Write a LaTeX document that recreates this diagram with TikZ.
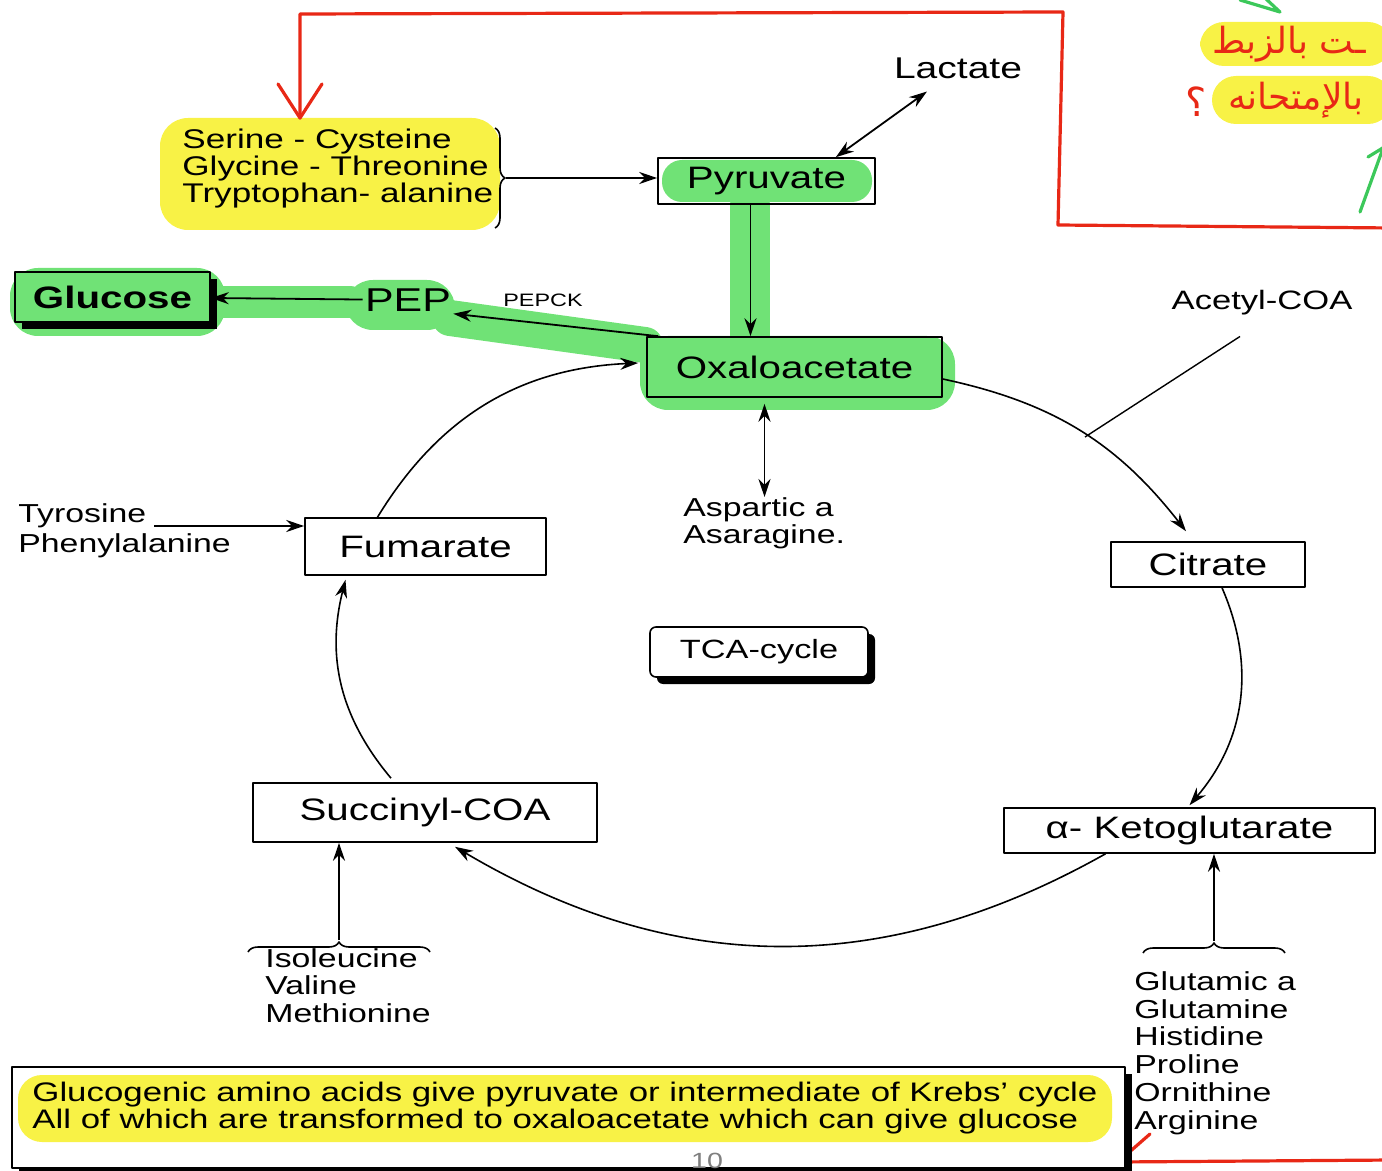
\documentclass[tikz,border=0pt]{standalone}
\usepackage{fontspec}
\setmainfont{Liberation Sans}[FakeStretch=1.3]
\newfontfamily\arabicfont[Script=Arabic]{DejaVu Sans}
\TeXXeTstate=1
\usetikzlibrary{arrows.meta,shadows,decorations.pathreplacing}
\definecolor{hlyellow}{RGB}{248,242,70}
\definecolor{hlgreen}{RGB}{112,226,118}
\definecolor{penred}{RGB}{232,40,22}
\definecolor{pengreen}{RGB}{60,200,90}
\tikzset{
  metab/.style={draw, line width=.8pt, inner sep=0pt, font=\fontsize{15.5}{16}\selectfont},
  aalist/.style={align=left, inner sep=0pt, font=\fontsize{13}{13.7}\selectfont},
  hlmark/.style={line width=16pt, line cap=round, draw=hlgreen},
  pen/.style={draw=penred, line width=1.6pt, line cap=round, line join=round},
  bshadow/.style={drop shadow={fill=black, opacity=1, shadow xshift=3.5pt, shadow yshift=-3.5pt}},
  link/.style={line width=.9pt},
  cyc/.style={->, line width=.8pt},
  bracket/.style={decorate, decoration={brace, amplitude=5pt}, line width=.8pt},
}

\begin{document}
\begin{tikzpicture}[x=0.5pt, y=-0.5pt, >={Stealth[length=9pt,width=6pt]}, line join=round]
\useasboundingbox (0,0) rectangle (1382,1171);

% highlighter marks
\fill[hlyellow, rounded corners=14pt] (160,118) rectangle (500,230);
\fill[hlyellow, rounded corners=12pt] (1200,22) rectangle (1392,66);
\fill[hlyellow, rounded corners=12pt] (1212,76) rectangle (1392,124);
\fill[hlgreen, rounded corners=14pt] (10,268) rectangle (225,336);
\draw[hlmark] (220,302) -- (350,302);
\fill[hlgreen, rounded corners=14pt] (345,280) rectangle (455,330);
\draw[hlmark, line width=18pt] (450,318) -- (645,345);
\fill[hlgreen, rounded corners=10pt] (662,160) rectangle (872,202);
\draw[hlmark, line width=20pt] (750,205) -- (750,335);
\fill[hlgreen, rounded corners=14pt] (640,336) rectangle (955,410);

% pen notes
\draw[pen] (1392,228) -- (1058,225) -- (1063,12) -- (300,14) -- (300,118);
\draw[pen] (278,84) -- (300,118) -- (322,84);
\draw[pen] (1392,1160) -- (1118,1162) -- (1150,1134);
\draw[pen, draw=pengreen] (1240,0) -- (1280,12) -- (1265,-2);
\draw[pen, draw=pengreen] (1360,212) -- (1386,140);
\draw[pen, draw=pengreen] (1368,157) -- (1386,146);
\node[anchor=west, inner sep=0pt, text=penred, font=\arabicfont\fontsize{18}{18}\selectfont] (note1) at (1212,44) {\beginR ـت بالزبط\endR};
\node[anchor=west, inner sep=0pt, text=penred, font=\arabicfont\fontsize{18}{18}\selectfont] (note2) at (1228,100) {\beginR بالإمتحانه\endR};
\node[inner sep=0pt, text=penred, font=\arabicfont\fontsize{20}{20}\selectfont] (qmark) at (1196,102) {؟};

% boxes
\node[metab, minimum width=108.5pt, minimum height=23pt] (pyr) at (766.5,181) {Pyruvate};
\node[metab, minimum width=147.5pt, minimum height=30pt] (oxa) at (794.5,367) {Oxaloacetate};
\node[metab, fill=hlgreen, bshadow, minimum width=97.5pt, minimum height=25pt, font=\fontsize{15.5}{16}\selectfont\bfseries] (glc) at (112.5,297) {Glucose};
\node[metab, minimum width=120.5pt, minimum height=28.5pt] (fum) at (425.5,546.5) {Fumarate};
\node[metab, minimum width=97pt, minimum height=22.5pt] (cit) at (1208,564.5) {Citrate};
\node[metab, minimum width=185.5pt, minimum height=22.5pt] (akg) at (1189.5,830.5) {α- Ketoglutarate};
\node[metab, minimum width=172pt, minimum height=29.5pt] (suc) at (425,812.5) {Succinyl-COA};
\node[metab, fill=white, bshadow, rounded corners=3pt, minimum width=109pt, minimum height=25pt, font=\fontsize{13.2}{14}\selectfont] (tca) at (759,652) {TCA-cycle};

% side labels
\node[font=\fontsize{15}{16}\selectfont] (lac) at (958,68) {Lactate};
\node[font=\fontsize{13.3}{14}\selectfont] (acc) at (1262,303) {Acetyl-COA};
\node[font=\fontsize{16.5}{17}\selectfont, inner sep=1pt] (pep) at (408,300) {PEP};
\node[font=\fontsize{9}{10}\selectfont] (pepck) at (543,300) {PEPCK};
\node[aalist, anchor=west, font=\fontsize{13.5}{13.5}\selectfont] (ser) at (182,169) {Serine - Cysteine\\Glycine - Threonine\\Tryptophan- alanine};
\node[aalist, anchor=north west, font=\fontsize{13}{13.5}\selectfont] (asp) at (683,497) {Aspartic a\\Asaragine.};
\node[aalist, anchor=west, font=\fontsize{13}{15}\selectfont] (tyr) at (18,531) {Tyrosine\\Phenylalanine};
\node[aalist, anchor=north west, font=\fontsize{13}{13.8}\selectfont] (ile) at (265,948) {Isoleucine\\Valine\\Methionine};
\node[aalist, anchor=north west, font=\fontsize{13}{13.9}\selectfont] (glu) at (1134,971) {Glutamic a\\Glutamine\\Histidine\\Proline\\Ornithine\\Arginine};

% summary box
\node[draw, line width=.8pt, fill=white, bshadow, minimum width=556.5pt, minimum height=50.5pt] (sumbox) at (568.5,1117.5) {};
\fill[hlyellow, rounded corners=12pt] (18,1075) rectangle (1112,1142);
\node[aalist, anchor=west, font=\fontsize{13.4}{13.5}\selectfont] (sumtxt) at (32,1108.5) {Glucogenic amino acids give pyruvate or intermediate of Krebs' cycle\\All of which are transformed to oxaloacetate which can give glucose};
\node[text=gray, font=\fontsize{11}{12}\selectfont] (pgnum) at (707,1161) {10};

% braces
\draw[bracket] (495,128) -- (495,228);
\draw[bracket] (248,952) -- (430,952);
\draw[bracket] (1143,953) -- (1285,953);
\coordinate (serTip) at (506,178);
\coordinate (ileTip) at (339,940);
\coordinate (gluTip) at (1214,941);
\coordinate (accJoin) at (1085,437);

% connectors
\draw[->, link] (serTip) -- (serTip -| pyr.west);
\draw[<->, link] ([xshift=-20pt]pyr.north east) -- ([xshift=20pt,yshift=-3pt]lac.south west);
\draw[->, link] ([xshift=-8pt]pyr.south) -- ([xshift=-8pt]pyr.south |- oxa.north);
\draw[->, link] (pep) -- (glc);
\draw[->, link] ([xshift=6pt]oxa.north west) -- (pep.south east);
\draw[<->, link] ([xshift=-15pt,yshift=-3pt]oxa.south) -- ([xshift=-15pt]oxa.south |- asp.north);
\draw[->, link] ([xshift=68pt,yshift=2.5pt]tyr.west) -- ([yshift=2.5pt]tyr.west -| fum.west);
\draw[->, link] (ileTip) -- (ileTip |- suc.south);
\draw[->, link] (gluTip) -- (gluTip |- akg.south);
\draw[link, line width=.7pt] ([xshift=-11pt,yshift=-7pt]acc.south) -- (accJoin);

% TCA cycle
\draw[cyc] ([yshift=-6pt]oxa.east) to[bend left=20] ([xshift=-11pt,yshift=5pt]cit.north);
\draw[cyc] ([xshift=7pt]cit.south) to[bend left=32] ([yshift=1pt]akg.north);
\draw[cyc] ([xshift=-42pt]akg.south) to[bend left=30] ([xshift=15pt,yshift=-2pt]suc.south);
\draw[cyc] ([xshift=-17pt,yshift=2pt]suc.north) to[bend left=27] ([xshift=-40pt,yshift=-2pt]fum.south);
\draw[cyc] ([xshift=-24pt]fum.north) to[bend left=28] ([xshift=-4pt,yshift=2pt]oxa.west);
\end{tikzpicture}
\end{document}
